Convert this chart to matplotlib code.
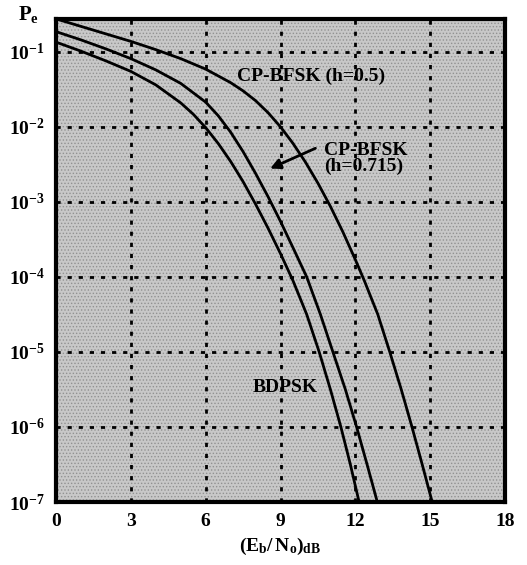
import matplotlib
matplotlib.use("Agg")
import matplotlib.pyplot as plt
from matplotlib.patches import Rectangle

# values (Eb/No in dB, log10 of Pe)
bdpsk_x = [0, 1, 2, 3, 4, 5, 5.5, 6, 6.5, 7, 7.5, 8, 8.5, 9, 9.5, 10.05, 10.55, 11.0,
           11.42, 11.8, 12.15]
bdpsk_logpe = [-0.87, -0.99, -1.12, -1.26, -1.44, -1.68, -1.83, -2.01, -2.22, -2.46, -2.73,
               -3.03, -3.35, -3.69, -4.05, -4.5, -5.0, -5.5, -6.0, -6.5, -7.0]

cp715_x = [0, 1, 2, 3, 4, 5, 6, 6.5, 7, 7.5, 8, 8.5, 9, 9.5, 10.05, 10.6, 11.1, 11.6,
           12.05, 12.47, 12.88]
cp715_logpe = [-0.73, -0.84, -0.96, -1.09, -1.24, -1.42, -1.67, -1.85, -2.07, -2.33, -2.62,
               -2.93, -3.26, -3.61, -4.0, -4.5, -5.0, -5.5, -6.0, -6.5, -7.0]

cp05_x = [0, 1, 2, 3, 4, 5, 6, 7, 7.5, 8, 8.5, 9, 9.5, 10, 10.5, 11, 11.5, 12, 12.36,
          12.9, 13.38, 13.84, 14.27, 14.68, 15.08]
cp05_logpe = [-0.56, -0.66, -0.76, -0.86, -0.97, -1.09, -1.23, -1.41, -1.52, -1.65, -1.81,
              -2.0, -2.22, -2.47, -2.75, -3.06, -3.4, -3.77, -4.05, -4.5, -5.0, -5.5, -6.0,
              -6.5, -7.0]

xticks = [0, 3, 6, 9, 12, 15, 18]
yticks = [1e-1, 1e-2, 1e-3, 1e-4, 1e-5, 1e-6, 1e-7]
ytick_labels = [r"$\mathbf{10^{-%d}}$" % k for k in range(1, 8)]

plt.rcParams['font.family'] = ['Liberation Serif', 'DejaVu Serif']
plt.rcParams['font.weight'] = 'bold'
plt.rcParams['mathtext.fontset'] = 'custom'
plt.rcParams['mathtext.rm'] = 'Liberation Serif'
plt.rcParams['mathtext.it'] = 'Liberation Serif'
plt.rcParams['mathtext.bf'] = 'Liberation Serif:bold'
plt.rcParams['hatch.color'] = '#929292'
plt.rcParams['hatch.linewidth'] = 0.6

fig = plt.figure(figsize=(5.27, 5.65), dpi=100)
ax = fig.add_axes([0.1063, 0.1115, 0.852, 0.855])
ax.set_yscale('log')
ax.set_xlim(0, 18)
ax.set_ylim(1e-7, 0.275)

# stippled gray background
ax.add_patch(Rectangle((0, 0), 1, 1, transform=ax.transAxes, facecolor='#c8c8c8',
                       hatch='.....', lw=0, zorder=0))

# dotted grid
for x in xticks[1:-1]:
    ax.axvline(x, color='black', lw=2, ls=(0, (1.5, 2.5)), zorder=1)
for y in yticks[:-1]:
    ax.axhline(y, color='black', lw=2, ls=(0, (1.5, 2.5)), zorder=1)

for xs, lp in [(bdpsk_x, bdpsk_logpe), (cp715_x, cp715_logpe), (cp05_x, cp05_logpe)]:
    ax.plot(xs, [10 ** v for v in lp], color='black', lw=2, solid_joinstyle='round', zorder=3)

ax.set_xticks(xticks)
ax.set_xticklabels([str(x) for x in xticks])
ax.set_yticks(yticks)
ax.set_yticklabels(ytick_labels)
ax.minorticks_off()
ax.tick_params(length=0, labelsize=14, pad=8)

for s in ax.spines.values():
    s.set_linewidth(3)

ax.set_xlabel(r"$\mathbf{(E_b/\,N_o)_{dB}}$", fontsize=14, labelpad=4)
fig.text(0.055, 0.975, r"$\mathbf{P_e}$", fontsize=15, ha='center', va='center')

ax.text(7.25, 10**-1.33, "CP-BFSK (h=0.5)", fontsize=14, ha='left', va='center', zorder=4)
ax.text(10.76, 10**-2.42, "CP-BFSK\n(h=0.715)", fontsize=14, ha='left', va='center',
        linespacing=0.95, zorder=4)
ax.annotate("", xy=(8.48, 10**-2.57), xytext=(10.5, 10**-2.27),
            arrowprops=dict(arrowstyle='-|>', color='black', lw=2, mutation_scale=15), zorder=4)
ax.text(7.9, 10**-5.48, "BDPSK", fontsize=14, ha='left', va='center', zorder=4)

fig.savefig("out.png", dpi=100)
